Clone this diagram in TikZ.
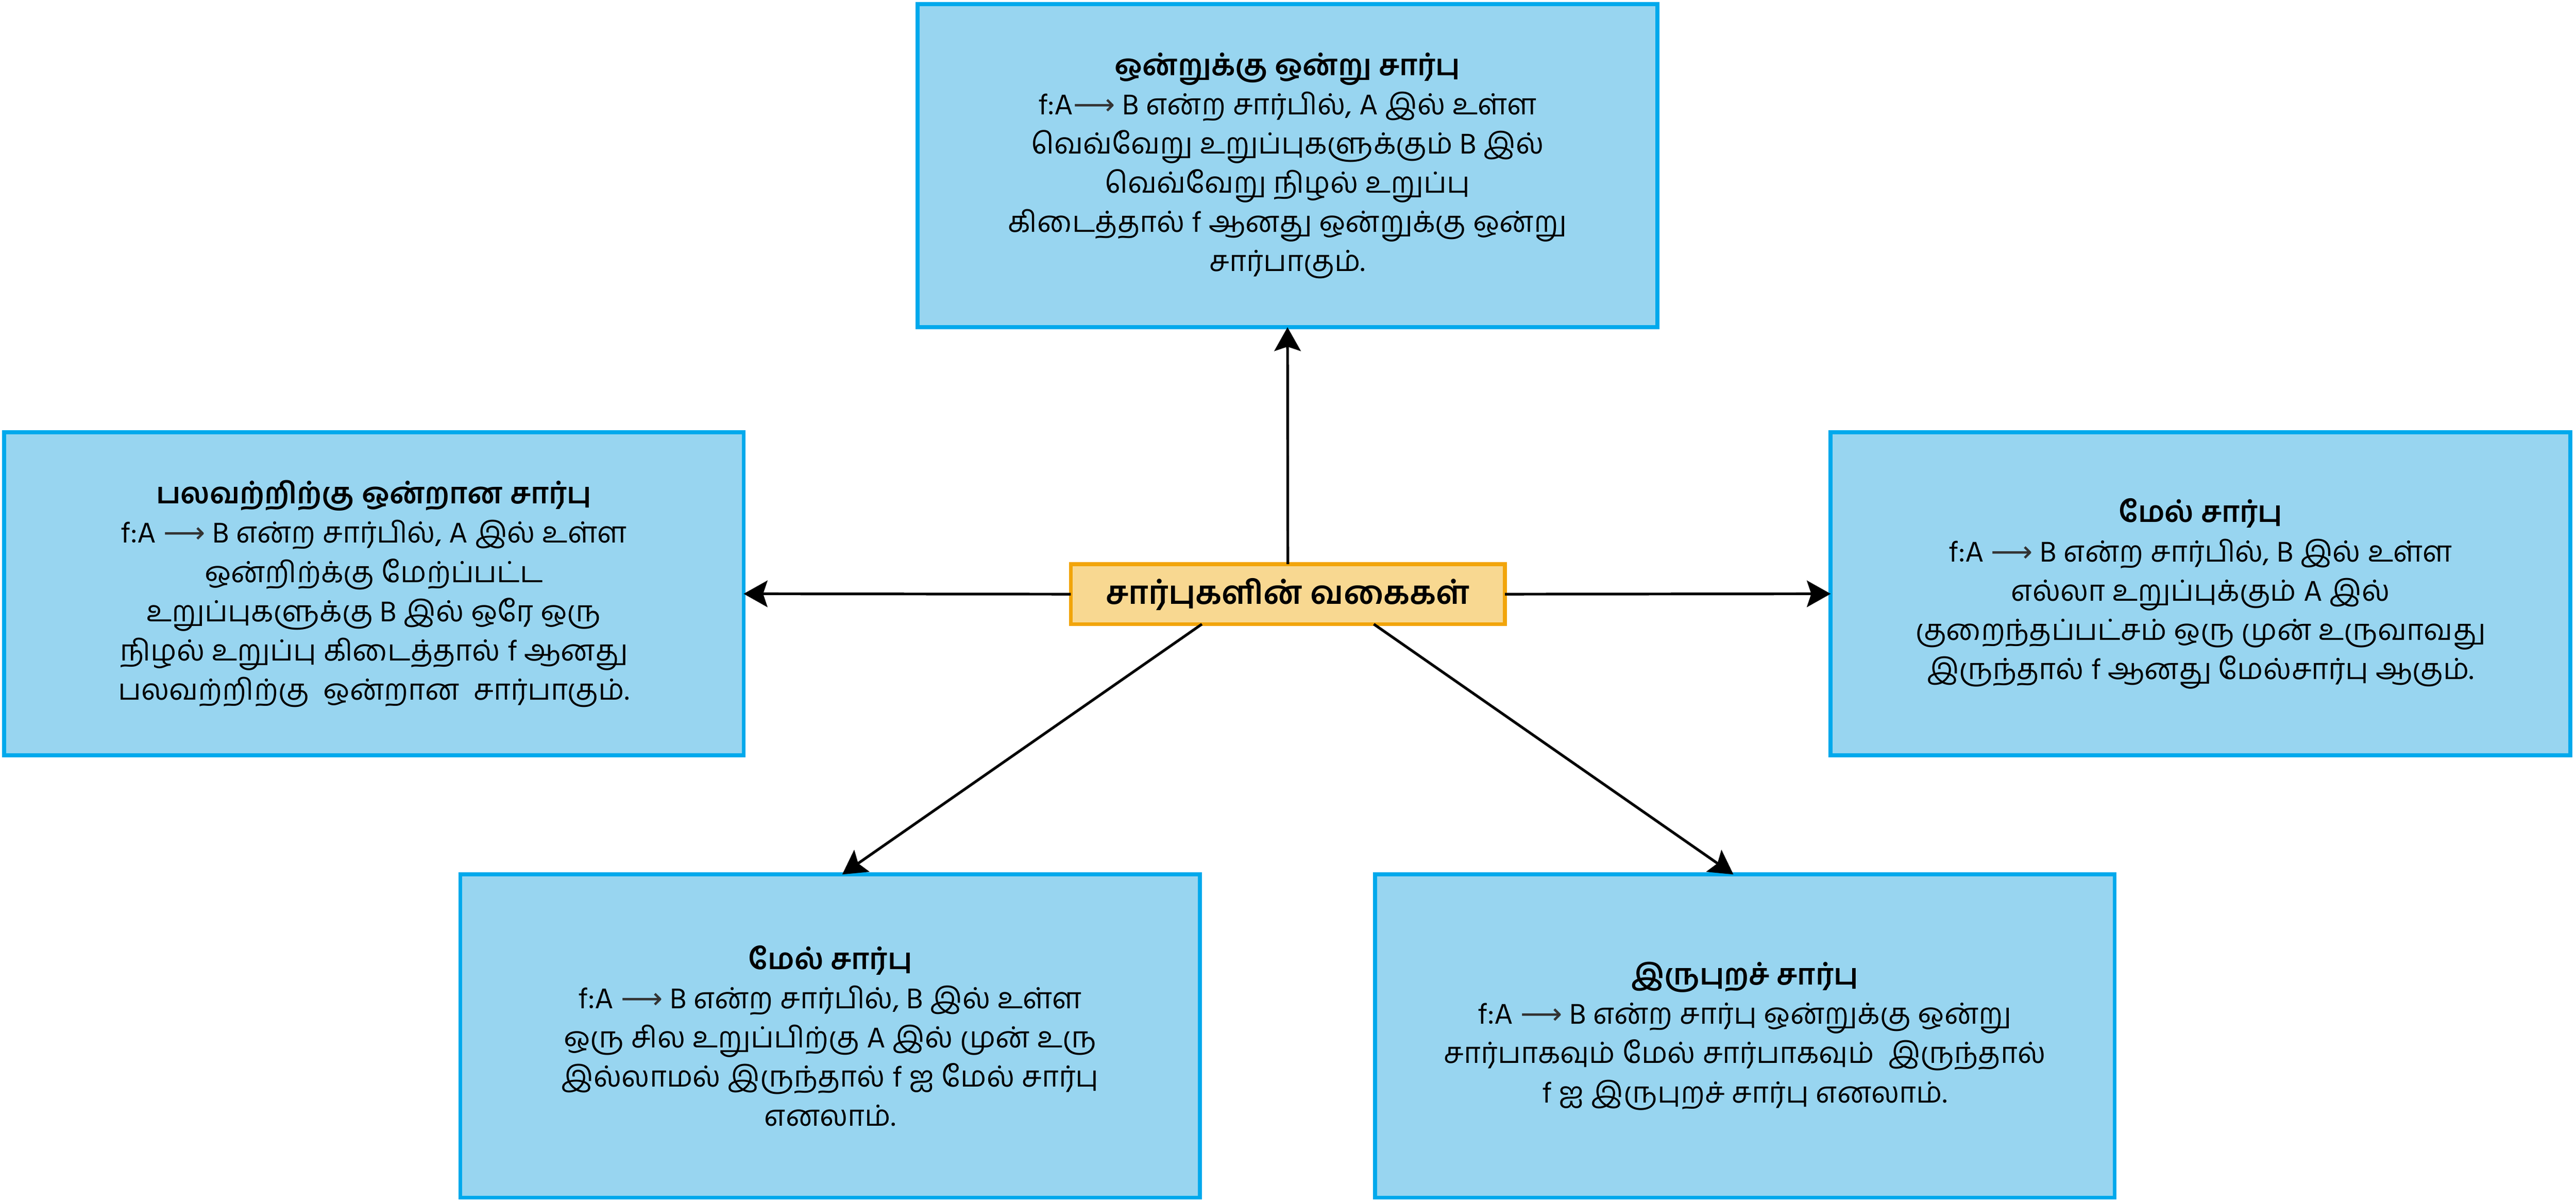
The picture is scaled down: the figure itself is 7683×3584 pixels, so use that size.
\documentclass[tikz,border=0pt]{standalone}
\usepackage{fontspec}
\setmainfont{Hind Madurai}[Script=Tamil]
\newfontfamily\djv{DejaVu Sans}
\usetikzlibrary{arrows.meta,calc}
\definecolor{boxfill}{HTML}{98D5F0}
\definecolor{boxline}{HTML}{00A9EC}
\definecolor{ctrfill}{HTML}{F8D891}
\definecolor{ctrline}{HTML}{F2A50A}
\definecolor{arrowgray}{HTML}{333333}
\newcommand\farr{{\djv\color{arrowgray}⟶}}
\tikzset{
  infobox/.style={draw=boxline, fill=boxfill, line width=1.2pt,
    minimum width=220.6pt, minimum height=96.4pt, inner sep=0pt, outer sep=0pt,
    align=center, font=\fontsize{8.7}{11.7}\selectfont},
  ctrbox/.style={draw=ctrline, fill=ctrfill, line width=1.1pt,
    minimum width=129.5pt, minimum height=17.9pt, inner sep=0pt, outer sep=0pt,
    align=center, font=\fontsize{9.6}{11.7}\selectfont\bfseries},
  conn/.style={draw=black, line width=0.8pt,
    -{Stealth[length=7.1pt,width=7.9pt,inset=1.3pt]}}
}
\begin{document}
\begin{tikzpicture}[x=0.1pt,y=-0.1pt]
\useasboundingbox (0,0) rectangle (7683,3584);
\node[ctrbox] (c) at (3841,1772) {சார்புகளின் வகைகள்};
\node[infobox] (top) at (3840,494) {\textbf{ஒன்றுக்கு ஒன்று சார்பு}\\
f:A\farr{} B என்ற சார்பில், A இல் உள்ள\\
வெவ்வேறு உறுப்புகளுக்கும் B இல்\\
வெவ்வேறு நிழல் உறுப்பு\\
கிடைத்தால் f ஆனது ஒன்றுக்கு ஒன்று\\
சார்பாகும்.};
\node[infobox] (left) at (1115,1771) {\textbf{பலவற்றிற்கு ஒன்றான சார்பு}\\
f:A \farr{} B என்ற சார்பில், A இல் உள்ள\\
ஒன்றிற்க்கு மேற்ப்பட்ட\\
உறுப்புகளுக்கு B இல் ஒரே ஒரு\\
நிழல் உறுப்பு கிடைத்தால் f ஆனது\\
பலவற்றிற்கு~ ஒன்றான~ சார்பாகும்.};
\node[infobox] (right) at (6563,1771) {\textbf{மேல் சார்பு}\\
f:A \farr{} B என்ற சார்பில், B இல் உள்ள\\
எல்லா உறுப்புக்கும் A இல்\\
குறைந்தப்பட்சம் ஒரு முன் உருவாவது\\
இருந்தால் f ஆனது மேல்சார்பு ஆகும்.};
\node[infobox] (bl) at (2476,3090) {\textbf{மேல் சார்பு}\\
f:A \farr{} B என்ற சார்பில், B இல் உள்ள\\
ஒரு சில உறுப்பிற்கு A இல் முன் உரு\\
இல்லாமல் இருந்தால் f ஐ மேல் சார்பு\\
எனலாம்.};
\node[infobox] (br) at (5204,3090) {\textbf{இருபுறச் சார்பு}\\
f:A \farr{} B என்ற சார்பு ஒன்றுக்கு ஒன்று\\
சார்பாகவும் மேல் சார்பாகவும்~ இருந்தால்\\
f ஐ இருபுறச் சார்பு எனலாம்.};
\coordinate (c1) at ($(c.south west)!0.302!(c.south east)$);
\coordinate (c2) at ($(c.south west)!0.698!(c.south east)$);
\draw[conn] (c.north) -- (top.south);
\draw[conn] (c.west) -- (left.east);
\draw[conn] (c.east) -- (right.west);
\draw[conn] (c1) -- ([xshift=3.6pt]bl.north);
\draw[conn] (c2) -- ([xshift=-3.4pt]br.north);
\end{tikzpicture}
\end{document}
